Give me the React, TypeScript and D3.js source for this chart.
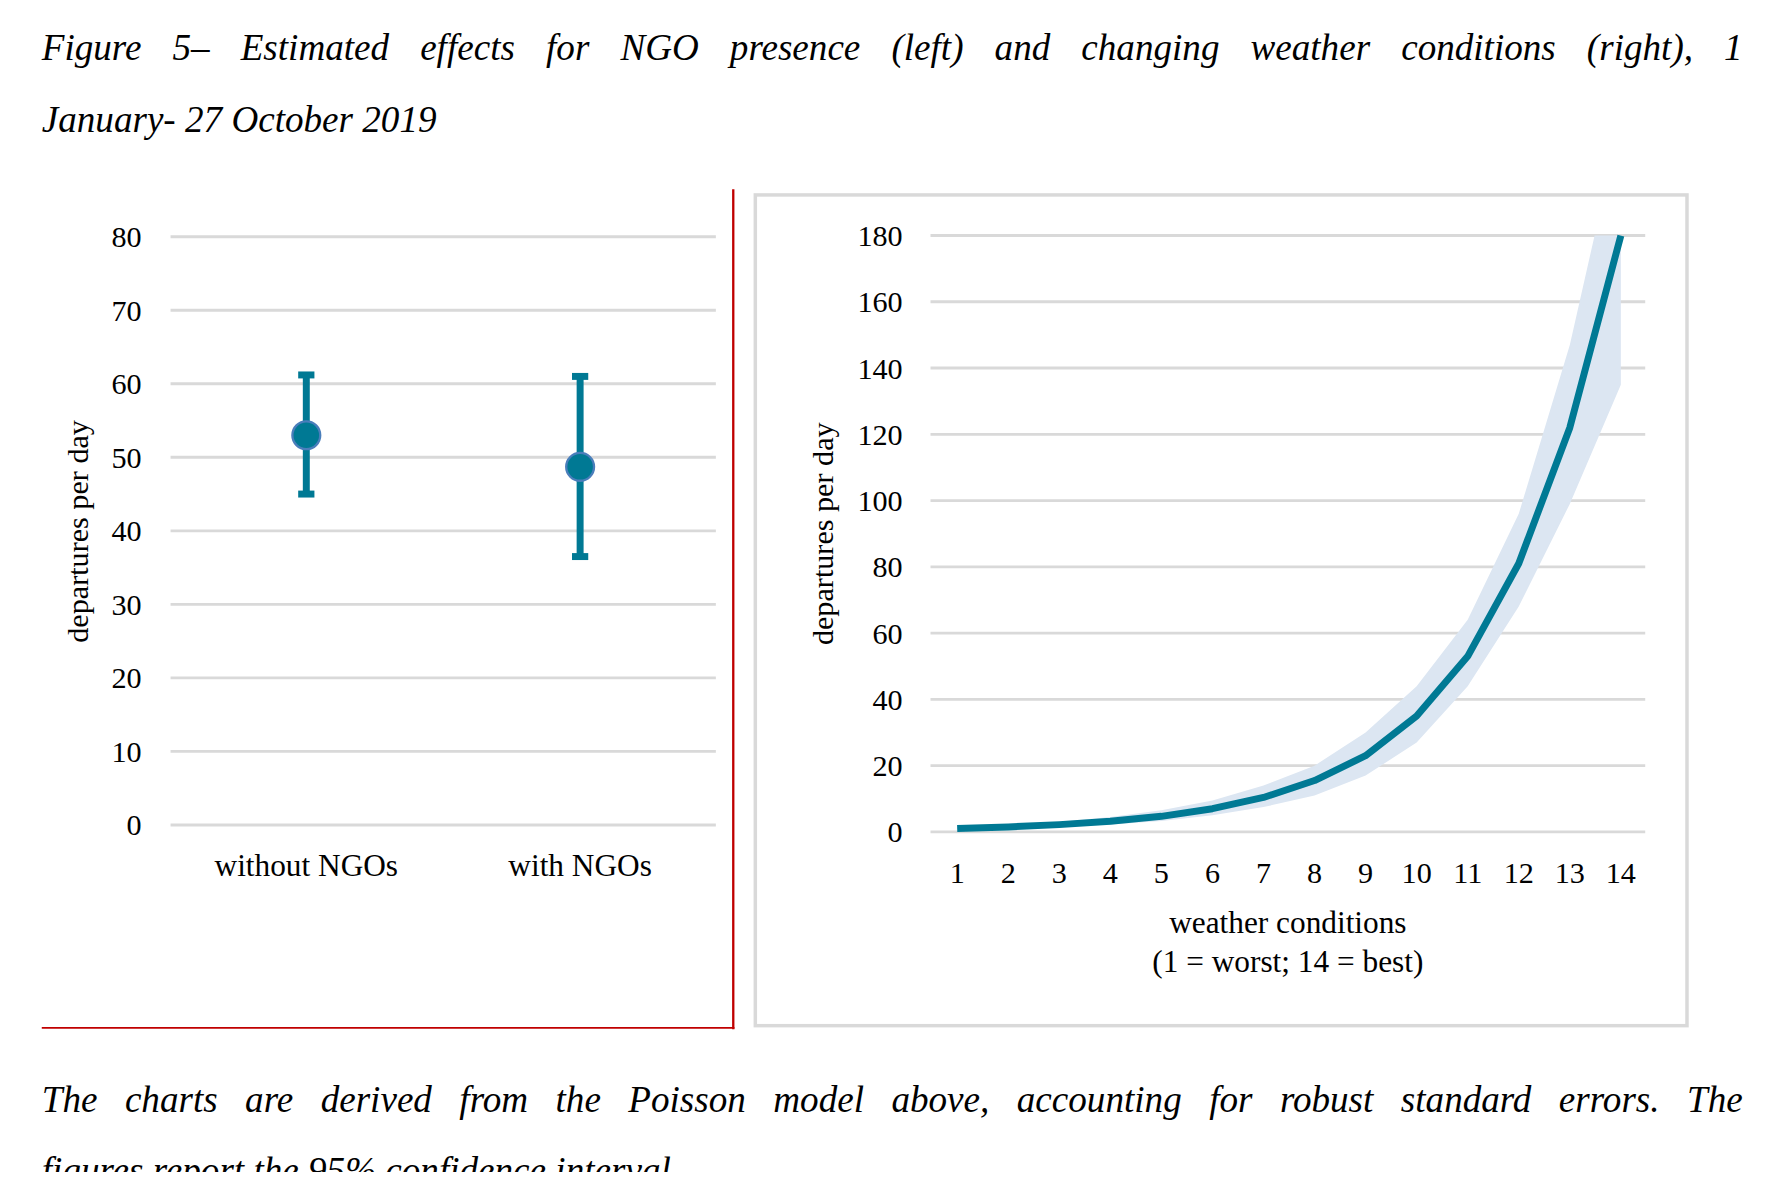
import React, { useEffect, useRef } from "react";
import * as d3 from "d3";

const ngoCategories = ["without NGOs", "with NGOs"];
const ngoEstimate = [53, 48.7];
const ngoLower = [45, 36.5];
const ngoUpper = [61.2, 61];
const ngoTicks = [0, 10, 20, 30, 40, 50, 60, 70, 80];

const weather = [1, 2, 3, 4, 5, 6, 7, 8, 9, 10, 11, 12, 13, 14];
const weatherEstimate = [1, 1.5, 2.2, 3.2, 4.7, 7, 10.4, 15.5, 23, 35, 53, 81, 122, 180];
const weatherUpper = [1.3, 2, 3, 4.5, 6.5, 9.5, 14, 20, 30, 44, 64, 96, 147, 215];
const weatherLower = [0.7, 1, 1.5, 2.2, 3.3, 5, 7.5, 11, 17, 27, 44, 68, 99, 135];
const weatherTicks = [0, 20, 40, 60, 80, 100, 120, 140, 160, 180];

const teal = "#007994";
const grid = "#d9d9d9";
const serif = "'Liberation Serif', 'Times New Roman', serif";

// spread words so a line fills the given width, like justified text
const justify = (sel: d3.Selection<SVGTextElement, unknown, null, undefined>, width: number) => {
  const node = sel.node()!;
  const natural = node.getComputedTextLength();
  const gaps = (node.textContent || "").split(" ").length - 1;
  if (gaps > 0 && natural < width) sel.attr("word-spacing", (width - natural) / gaps);
};

const App: React.FC = () => {
  const svgRef = useRef<SVGSVGElement>(null);

  useEffect(() => {
    const svg = d3.select(svgRef.current!);
    svg.selectAll("*").remove();
    svg.attr("font-family", serif);

    // Title
    const title = svg.append("g").attr("font-style", "italic").attr("font-size", 32);
    const t1 = title.append("text").attr("x", 36).attr("y", 52)
      .text("Figure 5– Estimated effects for NGO presence (left) and changing weather conditions (right), 1");
    justify(t1 as any, 1466);
    title.append("text").attr("x", 36).attr("y", 114).text("January- 27 October 2019");

    // Left chart
    const left = svg.append("g");
    const yL = d3.scaleLinear().domain([0, 80]).range([711, 204]);
    const xL = d3.scalePoint<string>().domain(ngoCategories).range([264, 500]);
    left.selectAll(".grid").data(ngoTicks).enter().append("line")
      .attr("x1", 147).attr("x2", 617).attr("y1", (d) => yL(d)).attr("y2", (d) => yL(d))
      .attr("stroke", grid).attr("stroke-width", 2.5);
    left.selectAll(".tick").data(ngoTicks).enter().append("text")
      .attr("x", 122).attr("y", (d) => yL(d) + 9).attr("text-anchor", "end").attr("font-size", 26)
      .text((d) => d);
    left.selectAll(".cat").data(ngoCategories).enter().append("text")
      .attr("x", (d) => xL(d)!).attr("y", 755).attr("text-anchor", "middle").attr("font-size", 27)
      .text((d) => d);
    left.append("text").attr("transform", "translate(76,458) rotate(-90)").attr("text-anchor", "middle")
      .attr("font-size", 26).text("departures per day");
    ngoCategories.forEach((c, i) => {
      const x = xL(c)!;
      left.append("line").attr("x1", x).attr("x2", x).attr("y1", yL(ngoLower[i])).attr("y2", yL(ngoUpper[i]))
        .attr("stroke", teal).attr("stroke-width", 6);
      [ngoLower[i], ngoUpper[i]].forEach((v) =>
        left.append("line").attr("x1", x - 7).attr("x2", x + 7).attr("y1", yL(v)).attr("y2", yL(v))
          .attr("stroke", teal).attr("stroke-width", 6));
      left.append("circle").attr("cx", x).attr("cy", yL(ngoEstimate[i])).attr("r", 12)
        .attr("fill", teal).attr("stroke", "#4a7ebb").attr("stroke-width", 2);
    });
    left.append("line").attr("x1", 632).attr("x2", 632).attr("y1", 163).attr("y2", 887).attr("stroke", "#c00000").attr("stroke-width", 2);
    left.append("line").attr("x1", 36).attr("x2", 633).attr("y1", 886).attr("y2", 886).attr("stroke", "#c00000").attr("stroke-width", 1.5);

    // Right chart
    const right = svg.append("g");
    right.append("rect").attr("x", 651).attr("y", 168).attr("width", 803).attr("height", 716)
      .attr("fill", "none").attr("stroke", grid).attr("stroke-width", 3);
    const yR = d3.scaleLinear().domain([0, 180]).range([717, 203]);
    const xR = d3.scaleLinear().domain([1, 14]).range([825, 1397]);
    right.selectAll(".grid").data(weatherTicks).enter().append("line")
      .attr("x1", 802).attr("x2", 1418).attr("y1", (d) => yR(d)).attr("y2", (d) => yR(d))
      .attr("stroke", grid).attr("stroke-width", 2.5);
    right.selectAll(".tick").data(weatherTicks).enter().append("text")
      .attr("x", 778).attr("y", (d) => yR(d) + 9).attr("text-anchor", "end").attr("font-size", 26)
      .text((d) => d);
    right.selectAll(".xtick").data(weather).enter().append("text")
      .attr("x", (d) => xR(d)).attr("y", 761).attr("text-anchor", "middle").attr("font-size", 26)
      .text((d) => d);
    right.append("text").attr("transform", "translate(718,460) rotate(-90)").attr("text-anchor", "middle")
      .attr("font-size", 26).text("departures per day");
    right.append("text").attr("x", 1110).attr("y", 804).attr("text-anchor", "middle").attr("font-size", 27).text("weather conditions");
    right.append("text").attr("x", 1110).attr("y", 838).attr("text-anchor", "middle").attr("font-size", 27).text("(1 = worst; 14 = best)");

    svg.append("defs").append("clipPath").attr("id", "plotClip").append("rect")
      .attr("x", 800).attr("y", yR(180)).attr("width", 620).attr("height", yR(0) - yR(180) + 10);
    const band = d3.area<number>().x((d) => xR(d)).y0((_, i) => yR(weatherLower[i])).y1((_, i) => yR(weatherUpper[i]));
    right.append("path").datum(weather).attr("d", band).attr("fill", "#dce6f2").attr("clip-path", "url(#plotClip)");
    const line = d3.line<number>().x((d) => xR(d)).y((_, i) => yR(weatherEstimate[i]));
    right.append("path").datum(weather).attr("d", line).attr("fill", "none").attr("stroke", teal)
      .attr("stroke-width", 6).attr("stroke-linejoin", "round");

    // Caption
    const cap = svg.append("g").attr("font-style", "italic").attr("font-size", 32);
    const c1 = cap.append("text").attr("x", 36).attr("y", 958)
      .text("The charts are derived from the Poisson model above, accounting for robust standard errors. The");
    justify(c1 as any, 1466);
    cap.append("text").attr("x", 36).attr("y", 1020).text("figures report the 95% confidence interval.");
  }, []);

  return (
    <svg ref={svgRef} width={1774} height={1180} viewBox="0 0 1529 1017"
      style={{ display: "block", margin: -8, background: "#fff" }} />
  );
};

export default App;
